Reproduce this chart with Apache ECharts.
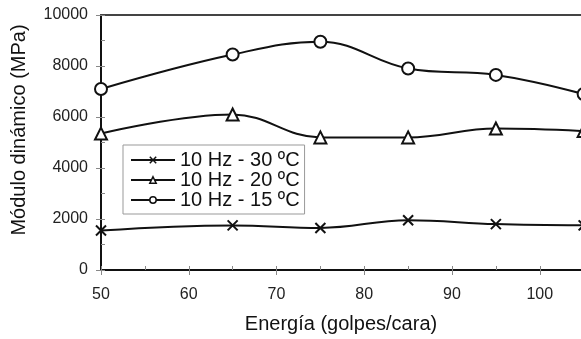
<!DOCTYPE html>
<html>
<head>
<meta charset="utf-8">
<script src="https://cdn.jsdelivr.net/npm/echarts@6/dist/echarts.min.js"></script>
<style>html,body{margin:0;padding:0;background:#fff}#c{width:581px;height:339px}</style>
</head>
<body>
<div id="c"></div>
<script>
var energia = [50, 65, 75, 85, 95, 105];
var s30 = [1550, 1750, 1650, 1950, 1800, 1750];
var s20 = [5350, 6100, 5200, 5200, 5550, 5450];
var s15 = [7100, 8450, 8950, 7900, 7650, 6900];
var names = ['10 Hz - 30 ºC', '10 Hz - 20 ºC', '10 Hz - 15 ºC'];

function pairs(v){ return energia.map(function(x,i){ return [x, v[i]]; }); }

var font = 'Liberation Sans, Arial, sans-serif';
var chart = echarts.init(document.getElementById('c'));
var crossPath = 'path://M0,0L10,10M10,0L0,10';
function ser(name, data, symbol, size){
  return {
    name: name, type: 'line', data: pairs(data), smooth: 0.4, clip: false,
    symbol: symbol, symbolSize: size, showAllSymbol: true,
    lineStyle: {color: '#111', width: 2},
    itemStyle: {color: '#fff', borderColor: '#111', borderWidth: 2},
    emphasis: {disabled: true}
  };
}
chart.setOption({
  animation: false,
  backgroundColor: '#fff',
  grid: {left: 101, top: 15, right: 0, bottom: 68},
  legend: {
    orient: 'vertical', left: 123, top: 145,
    data: names,
    itemWidth: 44, itemHeight: 8, itemGap: 0,
    padding: [5, 5, 4, 7],
    backgroundColor: '#fff', borderColor: '#999', borderWidth: 1,
    itemStyle: {borderWidth: 1.5},
    textStyle: {fontFamily: font, fontSize: 20, color: '#111', lineHeight: 19.5},
    selectedMode: false
  },
  xAxis: [{
    type: 'value', min: 50, max: 104.7, interval: 10,
    axisLine: {lineStyle: {color: '#111', width: 2}},
    axisTick: {show: true, length: 5, lineStyle: {color: '#888'}},
    axisLabel: {fontFamily: font, fontSize: 16, color: '#222', margin: 17, showMaxLabel: false},
    splitLine: {show: false},
    name: 'Energía (golpes/cara)', nameLocation: 'middle', nameGap: 44,
    nameTextStyle: {fontFamily: font, fontSize: 20, color: '#111'}
  }, {
    type: 'value', min: 50, max: 104.7, interval: 5, position: 'bottom',
    axisLine: {show: false},
    axisTick: {show: true, inside: true, length: 4, lineStyle: {color: '#888'}},
    axisLabel: {show: false}, splitLine: {show: false}
  }, {
    type: 'value', min: 50, max: 104.7, position: 'top',
    axisLine: {show: true, lineStyle: {color: '#444', width: 2}},
    axisTick: {show: false}, axisLabel: {show: false}, splitLine: {show: false}
  }],
  yAxis: [{
    type: 'value', min: 0, max: 10000, interval: 2000,
    axisLine: {show: true, lineStyle: {color: '#111', width: 2}},
    axisTick: {show: true, length: 5, lineStyle: {color: '#888'}},
    axisLabel: {fontFamily: font, fontSize: 16, color: '#222', margin: 13,
      formatter: function(v){ return String(v); }},
    splitLine: {show: false}
  }, {
    type: 'value', min: 0, max: 10000, interval: 1000, position: 'left',
    axisLine: {show: false},
    axisTick: {show: true, inside: true, length: 4, lineStyle: {color: '#888'}},
    axisLabel: {show: false}, splitLine: {show: false}
  }],
  graphic: [{
    type: 'text', x: 19, y: 130, rotation: Math.PI / 2,
    style: {text: 'Módulo dinámico (MPa)', fontFamily: font, fontSize: 20, fill: '#111',
      align: 'center', verticalAlign: 'middle'}
  }],
  series: [
    ser(names[0], s30, crossPath, 10),
    ser(names[1], s20, 'triangle', 12),
    ser(names[2], s15, 'circle', 12)
  ]
});
</script>
</body>
</html>
